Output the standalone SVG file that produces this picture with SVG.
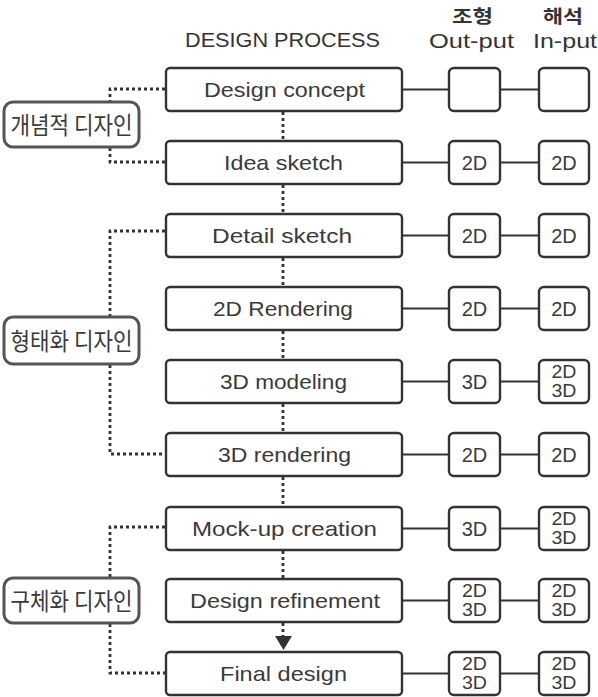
<svg xmlns="http://www.w3.org/2000/svg" width="598" height="697" viewBox="0 0 598 697">
<style>
.bg{fill:#ffffff}
.box{fill:#ffffff;stroke:#333333;stroke-width:2.4}
.lbl{fill:#ffffff;stroke:#555555;stroke-width:3}
.t{font-family:"Liberation Sans","Noto Sans CJK KR",sans-serif;font-size:21px;fill:#3a3a3a;text-anchor:middle}
.o{font-family:"Liberation Sans",sans-serif;font-size:20px;fill:#3a3a3a;text-anchor:middle}
.s{font-family:"Liberation Sans",sans-serif;font-size:17.5px;fill:#3a3a3a;text-anchor:middle}
.k{font-family:"Noto Sans CJK KR","Liberation Sans",sans-serif;font-size:24px;fill:#3a3a3a;text-anchor:middle}
.kb{font-family:"Noto Sans CJK KR","Liberation Sans",sans-serif;font-size:18px;font-weight:bold;fill:#333333;text-anchor:middle}
.h{font-family:"Liberation Sans",sans-serif;font-size:20.5px;fill:#333333;text-anchor:middle}
.ln{stroke:#333333;stroke-width:2;fill:none}
.dot{stroke:#333333;stroke-width:2.8;stroke-dasharray:3 3;fill:none}
</style>
<rect class="bg" x="0" y="0" width="598" height="697"/>

<g id="header">
<text class="h" x="282.5" y="47" textLength="195" lengthAdjust="spacingAndGlyphs">DESIGN PROCESS</text>
<text class="kb" x="472.5" y="23" textLength="41" lengthAdjust="spacingAndGlyphs">조형</text>
<text class="h" x="471.5" y="48" textLength="85" lengthAdjust="spacingAndGlyphs">Out-put</text>
<text class="kb" x="563" y="23" textLength="40" lengthAdjust="spacingAndGlyphs">해석</text>
<text class="h" x="565" y="48" textLength="64" lengthAdjust="spacingAndGlyphs">In-put</text>
</g>

<g id="connectors">
<path class="dot" d="M283,112 V140 M283,185 V213 M283,258 V286 M283,331 V359 M283,404 V432 M283,477 V506 M283,551 V578 M283,623 V636"/>
<polygon points="275,636 292,636 283.5,650" fill="#333333"/>
<path class="dot" d="M165,89 H110 V101 M110,148 V162 H165"/>
<path class="dot" d="M165,231 H110 V316 M110,365 V454 H165"/>
<path class="dot" d="M165,527 H110 V577 M110,624 V673 H165"/>
<path class="ln" d="M402,89.5 H449 M500,89.5 H539"/>
<path class="ln" d="M402,162.5 H449 M500,162.5 H539"/>
<path class="ln" d="M402,235.5 H449 M500,235.5 H539"/>
<path class="ln" d="M402,308.5 H449 M500,308.5 H539"/>
<path class="ln" d="M402,381.5 H449 M500,381.5 H539"/>
<path class="ln" d="M402,454.5 H449 M500,454.5 H539"/>
<path class="ln" d="M402,528.5 H449 M500,528.5 H539"/>
<path class="ln" d="M402,600.5 H449 M500,600.5 H539"/>
<path class="ln" d="M402,673.5 H449 M500,673.5 H539"/>
</g>

<g id="label-concept">
<rect class="lbl" x="4" y="102" width="135" height="45" rx="9"/>
<text class="k" x="71.5" y="133.5" textLength="122" lengthAdjust="spacingAndGlyphs">개념적 디자인</text>
</g>
<g id="label-form">
<rect class="lbl" x="4" y="317" width="135" height="47" rx="9"/>
<text class="k" x="71.5" y="349.5" textLength="122" lengthAdjust="spacingAndGlyphs">형태화 디자인</text>
</g>
<g id="label-concrete">
<rect class="lbl" x="4" y="578" width="135" height="45" rx="9"/>
<text class="k" x="71.5" y="609.5" textLength="122" lengthAdjust="spacingAndGlyphs">구체화 디자인</text>
</g>

<g id="n1">
<rect class="box" x="166" y="68" width="236" height="43" rx="4"/>
<text class="t" x="284.5" y="97" textLength="161" lengthAdjust="spacingAndGlyphs">Design concept</text>
</g>
<g id="n1-out"><rect class="box" x="449" y="68" width="51" height="43" rx="5"/></g>
<g id="n1-in"><rect class="box" x="539" y="68" width="50" height="43" rx="5"/></g>

<g id="n2">
<rect class="box" x="166" y="141" width="236" height="43" rx="4"/>
<text class="t" x="283.5" y="170" textLength="119" lengthAdjust="spacingAndGlyphs">Idea sketch</text>
</g>
<g id="n2-out"><rect class="box" x="449" y="141" width="51" height="43" rx="5"/><text class="o" x="474.5" y="169.5">2D</text></g>
<g id="n2-in"><rect class="box" x="539" y="141" width="50" height="43" rx="5"/><text class="o" x="564" y="169.5">2D</text></g>

<g id="n3">
<rect class="box" x="166" y="214" width="236" height="43" rx="4"/>
<text class="t" x="282" y="243" textLength="140" lengthAdjust="spacingAndGlyphs">Detail sketch</text>
</g>
<g id="n3-out"><rect class="box" x="449" y="214" width="51" height="43" rx="5"/><text class="o" x="474.5" y="242.5">2D</text></g>
<g id="n3-in"><rect class="box" x="539" y="214" width="50" height="43" rx="5"/><text class="o" x="564" y="242.5">2D</text></g>

<g id="n4">
<rect class="box" x="166" y="287" width="236" height="43" rx="4"/>
<text class="t" x="283" y="316" textLength="140" lengthAdjust="spacingAndGlyphs">2D Rendering</text>
</g>
<g id="n4-out"><rect class="box" x="449" y="287" width="51" height="43" rx="5"/><text class="o" x="474.5" y="315.5">2D</text></g>
<g id="n4-in"><rect class="box" x="539" y="287" width="50" height="43" rx="5"/><text class="o" x="564" y="315.5">2D</text></g>

<g id="n5">
<rect class="box" x="166" y="360" width="236" height="43" rx="4"/>
<text class="t" x="283.5" y="389" textLength="127" lengthAdjust="spacingAndGlyphs">3D modeling</text>
</g>
<g id="n5-out"><rect class="box" x="449" y="360" width="51" height="43" rx="5"/><text class="o" x="474.5" y="388.5">3D</text></g>
<g id="n5-in"><rect class="box" x="539" y="360" width="50" height="43" rx="5"/><text class="s" x="564" y="377.5" textLength="25" lengthAdjust="spacingAndGlyphs">2D</text><text class="s" x="564" y="397" textLength="25" lengthAdjust="spacingAndGlyphs">3D</text></g>

<g id="n6">
<rect class="box" x="166" y="433" width="236" height="43" rx="4"/>
<text class="t" x="284.5" y="462" textLength="133" lengthAdjust="spacingAndGlyphs">3D rendering</text>
</g>
<g id="n6-out"><rect class="box" x="449" y="433" width="51" height="43" rx="5"/><text class="o" x="474.5" y="461.5">2D</text></g>
<g id="n6-in"><rect class="box" x="539" y="433" width="50" height="43" rx="5"/><text class="o" x="564" y="461.5">2D</text></g>

<g id="n7">
<rect class="box" x="166" y="507" width="236" height="43" rx="4"/>
<text class="t" x="284.5" y="536" textLength="185" lengthAdjust="spacingAndGlyphs">Mock-up creation</text>
</g>
<g id="n7-out"><rect class="box" x="449" y="507" width="51" height="43" rx="5"/><text class="o" x="474.5" y="535.5">3D</text></g>
<g id="n7-in"><rect class="box" x="539" y="507" width="50" height="43" rx="5"/><text class="s" x="564" y="524.5" textLength="25" lengthAdjust="spacingAndGlyphs">2D</text><text class="s" x="564" y="544" textLength="25" lengthAdjust="spacingAndGlyphs">3D</text></g>

<g id="n8">
<rect class="box" x="166" y="579" width="236" height="43" rx="4"/>
<text class="t" x="285" y="608" textLength="190" lengthAdjust="spacingAndGlyphs">Design refinement</text>
</g>
<g id="n8-out"><rect class="box" x="449" y="579" width="51" height="43" rx="5"/><text class="s" x="474.5" y="596.5" textLength="25" lengthAdjust="spacingAndGlyphs">2D</text><text class="s" x="474.5" y="616" textLength="25" lengthAdjust="spacingAndGlyphs">3D</text></g>
<g id="n8-in"><rect class="box" x="539" y="579" width="50" height="43" rx="5"/><text class="s" x="564" y="596.5" textLength="25" lengthAdjust="spacingAndGlyphs">2D</text><text class="s" x="564" y="616" textLength="25" lengthAdjust="spacingAndGlyphs">3D</text></g>

<g id="n9">
<rect class="box" x="166" y="652" width="236" height="43" rx="4"/>
<text class="t" x="283.5" y="681" textLength="127" lengthAdjust="spacingAndGlyphs">Final design</text>
</g>
<g id="n9-out"><rect class="box" x="449" y="652" width="51" height="43" rx="5"/><text class="s" x="474.5" y="669.5" textLength="25" lengthAdjust="spacingAndGlyphs">2D</text><text class="s" x="474.5" y="689" textLength="25" lengthAdjust="spacingAndGlyphs">3D</text></g>
<g id="n9-in"><rect class="box" x="539" y="652" width="50" height="43" rx="5"/><text class="s" x="564" y="669.5" textLength="25" lengthAdjust="spacingAndGlyphs">2D</text><text class="s" x="564" y="689" textLength="25" lengthAdjust="spacingAndGlyphs">3D</text></g>
</svg>
